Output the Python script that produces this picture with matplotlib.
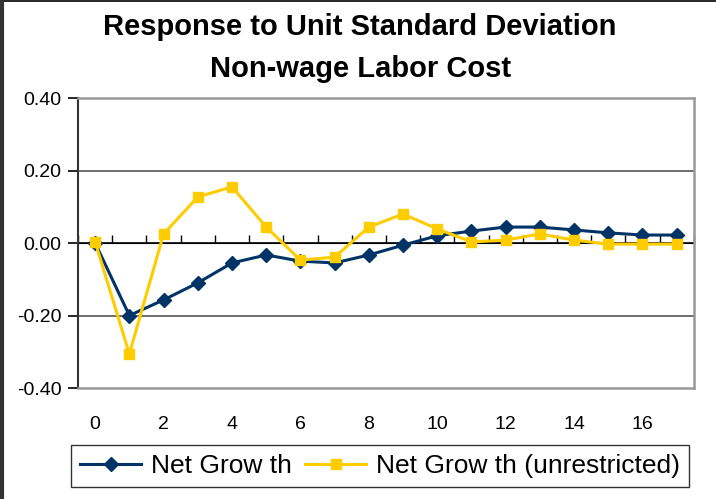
import matplotlib.pyplot as plt
from matplotlib.lines import Line2D
import numpy as np

plt.rcParams['font.family'] = ['Liberation Sans', 'DejaVu Sans']

periods = list(range(18))
net_growth = [0.0, -0.20, -0.157, -0.11, -0.055, -0.033, -0.05, -0.055, -0.033,
              -0.006, 0.02, 0.033, 0.044, 0.044, 0.036, 0.028, 0.022, 0.022]
net_growth_unr = [0.003, -0.306, 0.025, 0.127, 0.155, 0.044, -0.047, -0.039, 0.044,
                  0.08, 0.039, 0.003, 0.008, 0.025, 0.008, -0.003, -0.003, -0.003]
yticks = [-0.40, -0.20, 0.00, 0.20, 0.40]
xticks = list(range(0, 17, 2))

navy = '#003366'
gold = '#FFCC00'

fig = plt.figure(figsize=(7.16, 4.99), dpi=100)
ax = fig.add_axes([0.109, 0.2224, 0.86, 0.5812])

for y in [-0.2, 0.2]:
    ax.axhline(y, color='#555555', lw=1.2, zorder=1)

ax.plot(periods, net_growth, color=navy, lw=2.2, marker='D', ms=7,
        label='Net Grow th', zorder=3)
ax.plot(periods, net_growth_unr, color=gold, lw=2.2, marker='s', ms=7,
        label='Net Grow th (unrestricted)', zorder=4)

ax.set_xlim(-0.5, 17.5)
ax.set_ylim(-0.4, 0.4)
ax.set_yticks(yticks)
ax.set_yticklabels(['%.2f' % v for v in yticks], fontsize=14)
ax.tick_params(axis='y', direction='out', length=7, width=1.2, pad=5)
ax.set_xticks(xticks)
ax.set_xticklabels([str(v) for v in xticks], fontsize=14)
ax.tick_params(axis='x', length=0, pad=20)

for s in ['top', 'right', 'bottom']:
    ax.spines[s].set_color('#999999')
    ax.spines[s].set_linewidth(1.8)
ax.spines['left'].set_color('#333333')
ax.spines['left'].set_linewidth(1.5)

# zero axis with category tick marks
ax.axhline(0, color='black', lw=1.2, zorder=2)
sec = ax.secondary_xaxis(0.5)
sec.set_xticks(np.arange(-0.5, 18.0, 1.0))
sec.set_xticklabels([])
sec.tick_params(direction='out', length=6, width=1.0, color='black')
sec.spines['bottom'].set_visible(False)

fig.text(0.503, 0.946, 'Response to Unit Standard Deviation', ha='center',
         va='center', fontsize=21, fontweight='bold')
fig.text(0.503, 0.862, 'Non-wage Labor Cost', ha='center', va='center',
         fontsize=21, fontweight='bold')

leg = fig.legend(loc='center', bbox_to_anchor=(0.531, 0.066), ncol=2,
                 fontsize=19, frameon=True, fancybox=False, edgecolor='black',
                 handlelength=2.3, columnspacing=0.5, handletextpad=0.38,
                 borderpad=0.35, borderaxespad=0)
leg.get_frame().set_linewidth(1.0)

# chart border (top and left only visible)
fig.add_artist(Line2D([0, 1], [0.998, 0.998], transform=fig.transFigure,
                      color='black', lw=1.2))
fig.add_artist(Line2D([0.003, 0.003], [0, 1], transform=fig.transFigure,
                      color='#333333', lw=3))

fig.savefig('out.png', dpi=100)
